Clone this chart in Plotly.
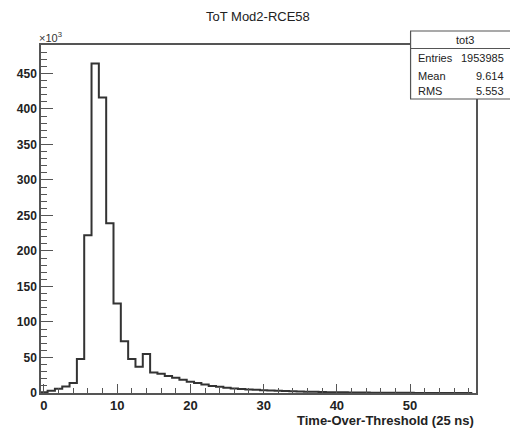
import plotly.graph_objects as go

# Histogram content (bin centers at integer ToT values), in units of 10^3 entries
tot_bins = list(range(0, 59))
counts_k = [1, 3, 6, 9, 14, 48, 222, 464, 416, 239,
            126, 73, 48, 37, 55, 29, 27, 24, 21.5, 18.5,
            16, 14, 12, 10, 8.7, 7.5, 6.5, 5.6, 5.0, 4.5,
            4.0, 3.5, 3.1, 2.7, 2.4, 2.1, 1.8, 1.6, 1.4, 1.2,
            1.0, 0.9, 0.8, 0.7, 0.6, 0.4, 0.3, 0.3, 0.2, 0.2,
            0.2, 0.1, 0.1, 0.1, 0.1, 0.1, 0.1, 0.1, 0.1]

stats_labels = ["Entries", "Mean", "RMS"]
stats_values = ["1953985", "9.614", "5.553"]
hist_name = "tot3"
title_text = "ToT Mod2-RCE58"
x_title = "Time-Over-Threshold (25 ns)"

# step outline: left edges + closing point
edges = [c - 0.5 for c in tot_bins] + [tot_bins[-1] + 0.5]
xs = [edges[0]] + edges
ys = [0] + counts_k + [counts_k[-1]]

W, H = 510, 429
L, R, T, B = 41, 476.5, 45, 393

def px2x(p):
    return (p - L) / (R - L)

def px2y(p):
    return (B - p) / (B - T)

fig = go.Figure()
fig.add_trace(go.Scatter(x=xs, y=ys, mode="lines", line_shape="hv",
                         line=dict(color="#333333", width=2), hoverinfo="skip",
                         showlegend=False))

font_fam = "Liberation Sans, Arial, sans-serif"
fig.update_layout(
    width=W, height=H,
    margin=dict(l=L, r=W - R, t=T, b=H - B),
    paper_bgcolor="white", plot_bgcolor="white",
    showlegend=False,
    xaxis=dict(range=[-0.4, 59.0], dtick=10, tick0=0, ticks="inside", ticklen=9,
               tickwidth=1, tickcolor="#555", showline=True, linecolor="#555",
               linewidth=1.5, mirror=True, showgrid=False, zeroline=False,
               tickfont=dict(family=font_fam, size=13, color="#222", weight="bold"),
               minor=dict(dtick=2, ticks="inside", ticklen=5, tickcolor="#555", showgrid=False)),
    yaxis=dict(range=[0, 490], dtick=50, tick0=0, ticks="inside", ticklen=12,
               tickwidth=1, tickcolor="#555", showline=True, linecolor="#555",
               linewidth=1.5, mirror=True, showgrid=False, zeroline=False,
               tickfont=dict(family=font_fam, size=12, color="#222", weight="bold"),
               minor=dict(dtick=10, ticks="inside", ticklen=6, tickcolor="#555", showgrid=False)),
)

ann = []
ann.append(dict(text=title_text, xref="paper", yref="paper", x=px2x(258), y=px2y(17),
                xanchor="center", yanchor="middle", showarrow=False,
                font=dict(family=font_fam, size=13, color="#222")))
ann.append(dict(text=x_title, xref="paper", yref="paper", x=px2x(477), y=px2y(420),
                xanchor="right", yanchor="middle", showarrow=False,
                font=dict(family=font_fam, size=13, color="#222", weight="bold")))
ann.append(dict(text="×10<sup>3</sup>", xref="paper", yref="paper", x=px2x(37), y=px2y(37),
                xanchor="left", yanchor="middle", showarrow=False,
                font=dict(family=font_fam, size=11, color="#333")))

# stats box
box_l, box_r, box_t, box_div, box_b = 411, 525, 31, 48.5, 99
shapes = [
    dict(type="rect", xref="paper", yref="paper", x0=px2x(box_l), x1=px2x(box_r),
         y0=px2y(box_b), y1=px2y(box_t), fillcolor="white",
         line=dict(color="#555", width=1.2), layer="above"),
    dict(type="line", xref="paper", yref="paper", x0=px2x(box_l), x1=px2x(box_r),
         y0=px2y(box_div), y1=px2y(box_div), line=dict(color="#555", width=1.2), layer="above"),
]
ann.append(dict(text=hist_name, xref="paper", yref="paper", x=px2x(465), y=px2y(39.5),
                xanchor="center", yanchor="middle", showarrow=False,
                font=dict(family=font_fam, size=11, color="#222")))
row_y = [58, 75.5, 91.5]
for lab, val, yy in zip(stats_labels, stats_values, row_y):
    ann.append(dict(text=lab, xref="paper", yref="paper", x=px2x(416), y=px2y(yy),
                    xanchor="left", yanchor="middle", showarrow=False,
                    font=dict(family=font_fam, size=11, color="#222")))
    ann.append(dict(text=val, xref="paper", yref="paper", x=px2x(507), y=px2y(yy),
                    xanchor="right", yanchor="middle", showarrow=False,
                    font=dict(family=font_fam, size=11, color="#222")))

fig.update_layout(annotations=ann, shapes=shapes)
fig.write_html("out.html")
